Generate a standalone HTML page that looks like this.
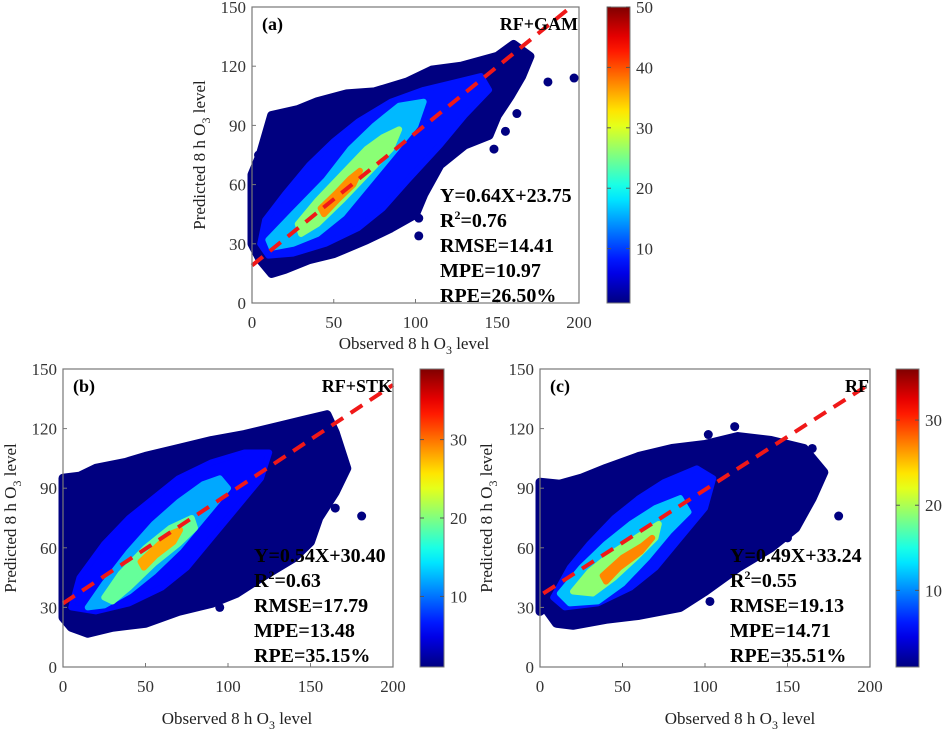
<!DOCTYPE html>
<html><head><meta charset="utf-8"><style>
html,body{margin:0;padding:0;background:#fff;}
svg{display:block;font-family:"Liberation Serif",serif;}
</style></head><body>
<svg id="fig" width="945" height="729" viewBox="0 0 945 729"></svg>
<script>
// ---- data (data coordinates: observed, predicted) ----
const xTicks=[0,50,100,150,200];
const yTicks=[0,30,60,90,120,150];
const panelLabels=["(a)","(b)","(c)"];
const modelNames=["RF+GAM","RF+STK","RF"];
const statsA=["Y=0.64X+23.75","R2=0.76","RMSE=14.41","MPE=10.97","RPE=26.50%"];
const statsB=["Y=0.54X+30.40","R2=0.63","RMSE=17.79","MPE=13.48","RPE=35.15%"];
const statsC=["Y=0.49X+33.24","R2=0.55","RMSE=19.13","MPE=14.71","RPE=35.51%"];
const cbTicksA=[10,20,30,40,50];
const cbTicksB=[10,20,30];
const cbTicksC=[10,20,30];
const cbRangeA=[1,50], cbRangeB=[1,39], cbRangeC=[1,36];
const fitLineA=[[0,19],[195,150]];
const fitLineB=[[0,32],[200,142]];
const fitLineC=[[2,37],[197,141]];
const densityA=[1,8,16,26,37];
const densityB=[1,6,12,19,28];
const densityC=[1,6,12,19,27];
const hullA=[[0,40],[0,65],[5,75],[12,95],[28,98],[40,102],[58,106],[75,107],[95,112],[110,118],[128,120],[150,125],[160,131],[170,125],[165,115],[158,105],[150,95],[145,85],[130,80],[115,70],[105,55],[100,45],[85,38],[70,32],[50,25],[35,22],[20,17],[12,15],[5,22],[0,30]];
const l2A=[[5,30],[8,42],[20,55],[35,70],[50,82],[65,92],[85,102],[105,108],[125,112],[140,115],[145,108],[130,95],[115,80],[95,62],[80,48],[65,38],[45,30],[25,25],[10,24]];
const l3A=[[10,32],[25,45],[45,62],[60,78],[75,90],[90,100],[105,102],[100,90],[85,75],[70,60],[55,45],[40,35],[25,30],[12,28]];
const l4A=[[28,40],[40,52],[55,65],[70,78],[80,84],[90,88],[85,78],[70,65],[55,52],[40,40],[30,35]];
const l5A=[[42,48],[52,56],[60,63],[66,67],[62,60],[52,52],[44,45]];
const outA=[[12,93],[12,88],[28,95],[181,112],[197,114],[102,34],[102,43],[155,87],[162,96],[148,78],[2,63],[4,75]];
const hullB=[[0,25],[0,95],[10,96],[20,100],[38,103],[50,106],[70,110],[90,114],[110,117],[130,121],[145,124],[160,127],[165,118],[172,100],[165,88],[155,75],[150,63],[140,55],[120,45],[105,37],[90,32],[70,28],[50,22],[30,20],[15,17],[5,20]];
const l2B=[[5,30],[10,45],[25,62],[40,75],[55,85],[70,95],[90,103],[110,108],[125,108],[120,95],[105,80],[90,65],[75,50],[60,40],[40,32],[20,28]];
const l3B=[[15,30],[25,42],[40,58],[55,72],[70,83],[85,92],[95,95],[100,90],[85,75],[70,60],[55,48],[40,38],[25,31]];
const l4B=[[25,35],[35,47],[50,60],[65,70],[78,75],[80,70],[70,62],[55,52],[40,40],[30,33]];
const l5B=[[47,53],[56,60],[65,67],[71,69],[67,63],[56,56],[49,50]];
const outB=[[181,76],[162,92],[165,80],[150,65],[120,65],[103,40],[95,30],[20,92],[10,94],[130,70]];
const hullC=[[0,28],[0,93],[12,92],[25,95],[40,100],[60,106],[80,110],[100,112],[120,116],[140,114],[160,110],[172,98],[165,85],[155,70],[140,60],[120,50],[100,38],[85,30],[60,26],[40,24],[20,21],[10,22],[3,30]];
const l2C=[[8,35],[18,50],[30,62],[45,75],[60,85],[75,93],[95,100],[105,95],[100,80],[85,65],[70,50],[55,40],[35,32],[15,30]];
const l3C=[[12,37],[25,50],[40,62],[55,72],[70,80],[85,85],[90,78],[78,68],[65,55],[50,42],[35,33],[18,32]];
const l4C=[[20,38],[30,48],[45,58],[60,66],[72,72],[70,65],[58,55],[45,45],[32,37]];
const l5C=[[38,46],[50,55],[62,61],[68,65],[61,58],[48,50],[40,43]];
const outC=[[181,76],[118,121],[102,117],[92,105],[165,110],[103,33],[95,40],[150,65],[130,68]];

const NS="http://www.w3.org/2000/svg";
const svg=document.getElementById('fig');
function mk(tag,attrs,parent){const e=document.createElementNS(NS,tag);for(const k in attrs)e.setAttribute(k,attrs[k]);(parent||svg).appendChild(e);return e;}
function jet(t){t=Math.max(0,Math.min(1,t));
  const r=Math.max(0,Math.min(1,1.5-Math.abs(4*t-3))),g=Math.max(0,Math.min(1,1.5-Math.abs(4*t-2))),b=Math.max(0,Math.min(1,1.5-Math.abs(4*t-1)));
  return `rgb(${Math.round(r*255)},${Math.round(g*255)},${Math.round(b*255)})`;}

function panel(cfg){
  const {L,R,T,B,id}=cfg;
  const sx=v=>L+(v-0)/(200-0)*(R-L);
  const sy=v=>B-(v-0)/(150-0)*(B-T);
  const g=mk('g',{});
  
  
  const cv=v=>jet((v-cfg.cb[0])/(cfg.cb[1]-cfg.cb[0]));
  const layers=[cfg.hull,cfg.l2,cfg.l3,cfg.l4,cfg.l5];
  layers.forEach((poly,i)=>{
    const p=mk('polygon',{points:poly.map(d=>sx(d[0])+','+sy(d[1])).join(' '),fill:cv(cfg.dens[i]),stroke:cv(cfg.dens[i]),'stroke-width':i==0?9:6,'stroke-linejoin':'round'},g);
    
    
  });
  cfg.out.forEach(d=>{
    const c=mk('circle',{cx:sx(d[0]),cy:sy(d[1]),r:4.5,fill:cv(cfg.dens[0])},g);
    
    
  });
  const ln=mk('line',{x1:sx(cfg.fit[0][0]),y1:sy(cfg.fit[0][1]),x2:sx(cfg.fit[1][0]),y2:sy(cfg.fit[1][1]),stroke:'#f01818','stroke-width':4,'stroke-dasharray':'14 9'},g);
  
  
  const box=mk('rect',{x:L,y:T,width:R-L,height:B-T,fill:'none',stroke:'#777','stroke-width':1.2},g);
  
  
  xTicks.forEach(v=>{
    mk('line',{x1:sx(v),x2:sx(v),y1:B,y2:B-4,stroke:'#777'},g);
    const t=mk('text',{x:sx(v),y:B+25,'text-anchor':'middle','font-size':17,fill:'#333'},g);t.textContent=v;
    
    
  });
  yTicks.forEach(v=>{
    mk('line',{x1:L,x2:L+4,y1:sy(v),y2:sy(v),stroke:'#777'},g);
    const t=mk('text',{x:L-6,y:sy(v)+6,'text-anchor':'end','font-size':17,fill:'#333'},g);t.textContent=v;
    
    
  });
  const pl=mk('text',{x:L+10,y:T+23,'font-size':18,'font-weight':'bold'},g);pl.textContent=cfg.label;
  
  
  const mn=mk('text',{x:R-1,y:T+23,'font-size':18,'font-weight':'bold','text-anchor':'end'},g);mn.textContent=cfg.model;
  
  
  cfg.stats.forEach((s,i)=>{
    const t=mk('text',{x:cfg.sx,y:cfg.sy+i*25+7,'font-size':20,'font-weight':'bold'},g);
    if(s.startsWith('R2')){t.innerHTML='R<tspan dy="-8" font-size="12">2</tspan><tspan dy="8">'+s.slice(2)+'</tspan>';}
    else t.textContent=s;
    
    
  });
  const xt=mk('text',{x:cfg.xtx,y:cfg.xty,'text-anchor':'middle','font-size':17,fill:'#222'},g);
  xt.innerHTML='Observed 8 h O<tspan dy="5" font-size="12">3</tspan><tspan dy="-5"> level</tspan>';
  
  
  const yt=mk('text',{x:0,y:0,'text-anchor':'middle','font-size':17,fill:'#222',transform:`translate(${cfg.ytx},${(T+B)/2}) rotate(-90)`},g);
  yt.innerHTML='Predicted 8 h O<tspan dy="5" font-size="12">3</tspan><tspan dy="-5"> level</tspan>';
  
  
  const [cL,cR]=cfg.cbx;
  const gid='grad'+id;
  const defs=mk('defs',{},g);
  const lg=mk('linearGradient',{id:gid,x1:0,y1:1,x2:0,y2:0},defs);
  for(let i=0;i<=20;i++)mk('stop',{offset:i/20,'stop-color':jet(i/20)},lg);
  const cb=mk('rect',{x:cL,y:T,width:cR-cL,height:B-T,fill:`url(#${gid})`,stroke:'#777','stroke-width':1},g);
  
  
  const cy=v=>B-(v-cfg.cb[0])/(cfg.cb[1]-cfg.cb[0])*(B-T);
  cfg.cbt.forEach(v=>{
    mk('line',{x1:cR,x2:cR-4,y1:cy(v),y2:cy(v),stroke:'#555'},g);
    mk('line',{x1:cL,x2:cL+4,y1:cy(v),y2:cy(v),stroke:'#555'},g);
    const t=mk('text',{x:cR+6,y:cy(v)+6,'font-size':17,fill:'#333'},g);t.textContent=v;
    
    
  });
}
panel({id:'a',L:252,R:579,T:7,B:303,hull:hullA,l2:l2A,l3:l3A,l4:l4A,l5:l5A,out:outA,fit:fitLineA,dens:densityA,cb:cbRangeA,cbt:cbTicksA,cbx:[607,630],label:panelLabels[0],model:modelNames[0],stats:statsA,sx:440,sy:195,xtx:414,xty:349,ytx:205});
panel({id:'b',L:63,R:393,T:369,B:667,hull:hullB,l2:l2B,l3:l3B,l4:l4B,l5:l5B,out:outB,fit:fitLineB,dens:densityB,cb:cbRangeB,cbt:cbTicksB,cbx:[420,444],label:panelLabels[1],model:modelNames[1],stats:statsB,sx:254,sy:555,xtx:237,xty:724,ytx:16});
panel({id:'c',L:540,R:870,T:369,B:667,hull:hullC,l2:l2C,l3:l3C,l4:l4C,l5:l5C,out:outC,fit:fitLineC,dens:densityC,cb:cbRangeC,cbt:cbTicksC,cbx:[896,919],label:panelLabels[2],model:modelNames[2],stats:statsC,sx:730,sy:555,xtx:740,xty:724,ytx:492});
</script>
</body></html>
